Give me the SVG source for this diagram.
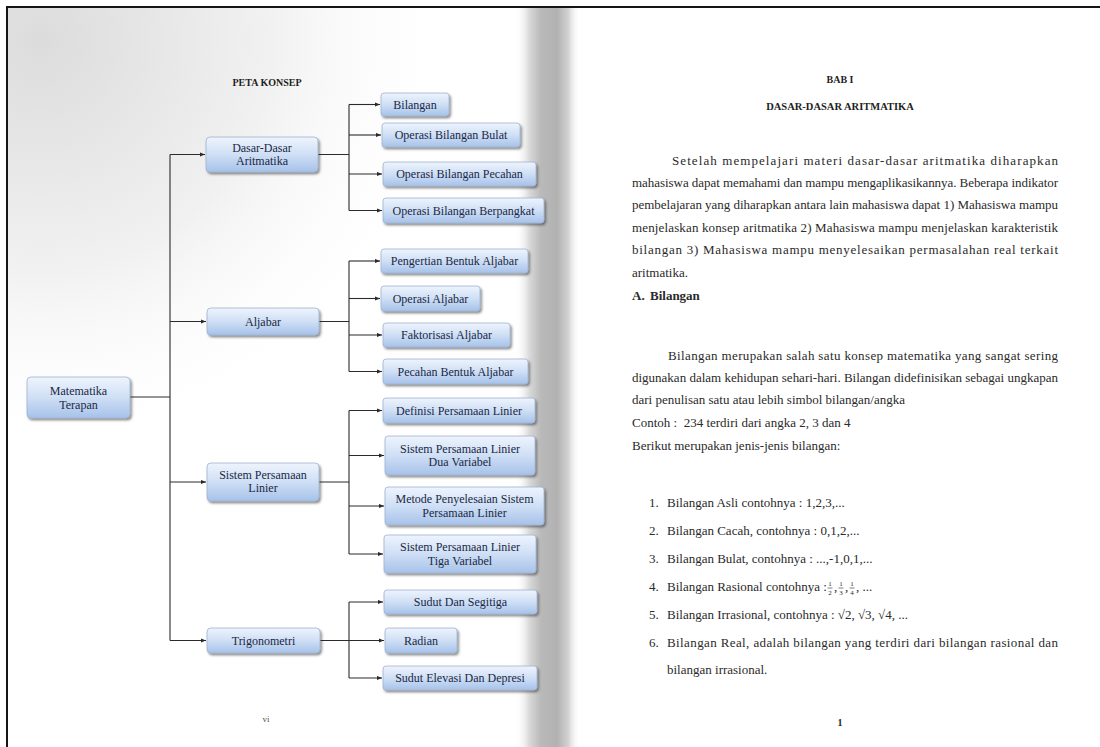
<svg xmlns="http://www.w3.org/2000/svg" width="1100" height="747" viewBox="0 0 1100 747">
<defs>
<style>
.box{fill:url(#boxg);stroke:#9fb2cf;stroke-width:0.8;filter:url(#sh)}
.bt{font-family:"Liberation Serif","Times New Roman",serif;font-size:12px;fill:#1a2844;text-anchor:middle}
.con{fill:none;stroke:#2b2b2b;stroke-width:1.1}
.arr{fill:none;stroke:#2b2b2b;stroke-width:1.1;marker-end:url(#ah)}
.body{font-family:"Liberation Serif","Times New Roman",serif;font-size:13px;fill:#2a2a2a}
.hd{font-family:"Liberation Serif","Times New Roman",serif;font-weight:bold;fill:#1e1e1e;text-anchor:middle}
.fr{font-family:"Liberation Serif","Times New Roman",serif;font-size:7px;fill:#2a2a2a;text-anchor:middle}
</style>
<linearGradient id="boxg" x1="0" y1="0" x2="0" y2="1">
<stop offset="0" stop-color="#eef4fd"/>
<stop offset="0.5" stop-color="#cfdff5"/>
<stop offset="1" stop-color="#a6c2ea"/>
</linearGradient>
<filter id="sh" x="-10%" y="-20%" width="125%" height="160%">
<feDropShadow dx="1.5" dy="2" stdDeviation="1.2" flood-color="#333" flood-opacity="0.55"/>
</filter>
<radialGradient id="tl" cx="40" cy="40" r="420" gradientUnits="userSpaceOnUse">
<stop offset="0" stop-color="#dcdcdc"/>
<stop offset="0.55" stop-color="#f1f1f1"/>
<stop offset="1" stop-color="#ffffff" stop-opacity="0"/>
</radialGradient>
<linearGradient id="gut" x1="515" y1="0" x2="580" y2="0" gradientUnits="userSpaceOnUse">
<stop offset="0" stop-color="#ffffff" stop-opacity="0"/>
<stop offset="0.22" stop-color="#d9d9d9"/>
<stop offset="0.4" stop-color="#b9b9b9"/>
<stop offset="0.65" stop-color="#b2b2b2"/>
<stop offset="0.82" stop-color="#d2d2d2"/>
<stop offset="1" stop-color="#ffffff" stop-opacity="0"/>
</linearGradient>
<marker id="ah" viewBox="0 0 6 6" refX="6" refY="3" markerWidth="5" markerHeight="5" markerUnits="userSpaceOnUse" orient="auto">
<path d="M0,0.5 L6,3 L0,5.5 z" fill="#2b2b2b"/>
</marker>
</defs>

<rect x="0" y="0" width="1100" height="747" fill="#ffffff"/>
<rect x="7" y="7" width="510" height="740" fill="url(#tl)"/>
<rect x="515" y="7" width="65" height="740" fill="url(#gut)"/>
<path d="M6,7 H1100 M7,6 V747" stroke="#151515" stroke-width="2" fill="none"/>

<text class="hd" x="267" y="86" font-size="10">PETA KONSEP</text>

<g id="connectors">
<path class="con" d="M130,397 H170 M170,154.5 V640.5"/>
<path class="arr" d="M170,154.5 H205"/>
<path class="arr" d="M170,321.5 H206"/>
<path class="arr" d="M170,482 H206"/>
<path class="arr" d="M170,640.5 H206"/>
<path class="con" d="M318,154.5 H349 M349,104.5 V210.5"/>
<path class="arr" d="M349,104.5 H380"/>
<path class="arr" d="M349,135 H381"/>
<path class="arr" d="M349,174 H382"/>
<path class="arr" d="M349,210.5 H382"/>
<path class="con" d="M319,321.5 H349 M349,261 V371.5"/>
<path class="arr" d="M349,261 H380"/>
<path class="arr" d="M349,298.5 H380"/>
<path class="arr" d="M349,335 H382"/>
<path class="arr" d="M349,371.5 H382"/>
<path class="con" d="M319,482 H349 M349,410.5 V554"/>
<path class="arr" d="M349,410.5 H382"/>
<path class="arr" d="M349,455.5 H384"/>
<path class="arr" d="M349,506 H384"/>
<path class="arr" d="M349,554 H383"/>
<path class="con" d="M320,640.5 H349 M349,602 V678"/>
<path class="arr" d="M349,602 H383"/>
<path class="arr" d="M349,640.5 H384"/>
<path class="arr" d="M349,678 H382"/>
</g>

<g id="n-matematika-terapan"><rect class="box" x="27" y="377" width="103" height="41" rx="4"/><text class="bt" x="78.5" y="395">Matematika</text><text class="bt" x="78.5" y="409">Terapan</text></g>
<g id="n-dasar"><rect class="box" x="206" y="137" width="112" height="35" rx="4"/><text class="bt" x="262" y="152">Dasar-Dasar</text><text class="bt" x="262" y="165">Aritmatika</text></g>
<g id="n-aljabar"><rect class="box" x="207" y="308" width="112" height="27" rx="4"/><text class="bt" x="263" y="325.5">Aljabar</text></g>
<g id="n-spl"><rect class="box" x="207" y="463" width="112" height="38" rx="4"/><text class="bt" x="263" y="479">Sistem Persamaan</text><text class="bt" x="263" y="492">Linier</text></g>
<g id="n-trigonometri"><rect class="box" x="207" y="628" width="113" height="25" rx="4"/><text class="bt" x="263.5" y="644.5">Trigonometri</text></g>

<g id="n-bilangan"><rect class="box" x="381" y="93" width="68" height="23" rx="3"/><text class="bt" x="415" y="108.5">Bilangan</text></g>
<g id="n-bulat"><rect class="box" x="382" y="123" width="138" height="24" rx="3"/><text class="bt" x="451" y="139">Operasi Bilangan Bulat</text></g>
<g id="n-pecahan"><rect class="box" x="383" y="162" width="153" height="24" rx="3"/><text class="bt" x="459.5" y="178">Operasi Bilangan Pecahan</text></g>
<g id="n-berpangkat"><rect class="box" x="383" y="198" width="161" height="25" rx="3"/><text class="bt" x="463.5" y="214.5">Operasi Bilangan Berpangkat</text></g>

<g id="n-pengertian"><rect class="box" x="381" y="249" width="147" height="24" rx="3"/><text class="bt" x="454.5" y="265">Pengertian Bentuk Aljabar</text></g>
<g id="n-operasi-aljabar"><rect class="box" x="381" y="286" width="99" height="25" rx="3"/><text class="bt" x="430.5" y="302.5">Operasi Aljabar</text></g>
<g id="n-faktorisasi"><rect class="box" x="383" y="323" width="127" height="24" rx="3"/><text class="bt" x="446.5" y="339">Faktorisasi Aljabar</text></g>
<g id="n-pecahan-aljabar"><rect class="box" x="383" y="359" width="145" height="25" rx="3"/><text class="bt" x="455.5" y="375.5">Pecahan Bentuk Aljabar</text></g>

<g id="n-definisi"><rect class="box" x="383" y="398" width="152" height="25" rx="3"/><text class="bt" x="459" y="414.5">Definisi Persamaan Linier</text></g>
<g id="n-spldv"><rect class="box" x="385" y="436" width="150" height="39" rx="3"/><text class="bt" x="460" y="452.5">Sistem Persamaan Linier</text><text class="bt" x="460" y="466">Dua Variabel</text></g>
<g id="n-metode"><rect class="box" x="385" y="487" width="159" height="38" rx="3"/><text class="bt" x="464.5" y="503">Metode Penyelesaian Sistem</text><text class="bt" x="464.5" y="516.5">Persamaan Linier</text></g>
<g id="n-spltv"><rect class="box" x="384" y="535" width="152" height="38" rx="3"/><text class="bt" x="460" y="551">Sistem Persamaan Linier</text><text class="bt" x="460" y="564.5">Tiga Variabel</text></g>

<g id="n-sudut-segitiga"><rect class="box" x="384" y="590" width="153" height="24" rx="3"/><text class="bt" x="460.5" y="606">Sudut Dan Segitiga</text></g>
<g id="n-radian"><rect class="box" x="385" y="628" width="72" height="25" rx="3"/><text class="bt" x="421" y="644.5">Radian</text></g>
<g id="n-sudut-elevasi"><rect class="box" x="383" y="666" width="154" height="24" rx="3"/><text class="bt" x="460" y="682">Sudut Elevasi Dan Depresi</text></g>

<text x="266" y="722" font-family="Liberation Serif, serif" font-size="9" fill="#555" text-anchor="middle">vi</text>

<g id="right-page">
<text class="hd" x="840" y="83" font-size="10">BAB I</text>
<text class="hd" x="840" y="110" font-size="10.5">DASAR-DASAR ARITMATIKA</text>
<text class="body" x="672" y="165" textLength="386" lengthAdjust="spacing">Setelah mempelajari materi dasar-dasar aritmatika diharapkan</text>
<text class="body" x="632" y="187" textLength="426" lengthAdjust="spacing">mahasiswa dapat memahami dan mampu mengaplikasikannya. Beberapa indikator</text>
<text class="body" x="632" y="209" textLength="426" lengthAdjust="spacing">pembelajaran yang diharapkan antara lain mahasiswa dapat 1) Mahasiswa mampu</text>
<text class="body" x="632" y="232" textLength="426" lengthAdjust="spacing">menjelaskan konsep aritmatika 2) Mahasiswa mampu menjelaskan karakteristik</text>
<text class="body" x="632" y="254" textLength="426" lengthAdjust="spacing">bilangan 3) Mahasiswa mampu menyelesaikan permasalahan real terkait</text>
<text class="body" x="632" y="277">aritmatika.</text>
<text class="body" x="632" y="300" font-weight="bold">A.</text>
<text class="body" x="650" y="300" font-weight="bold">Bilangan</text>
<text class="body" x="668" y="360" textLength="390" lengthAdjust="spacing">Bilangan merupakan salah satu konsep matematika yang sangat sering</text>
<text class="body" x="632" y="382" textLength="426" lengthAdjust="spacing">digunakan dalam kehidupan sehari-hari. Bilangan didefinisikan sebagai ungkapan</text>
<text class="body" x="632" y="404">dari penulisan satu atau lebih simbol bilangan/angka</text>
<text class="body" x="632" y="427">Contoh :&#160; 234 terdiri dari angka 2, 3 dan 4</text>
<text class="body" x="632" y="450">Berikut merupakan jenis-jenis bilangan:</text>

<text class="body" x="649" y="507">1.</text><text class="body" x="667" y="507">Bilangan Asli contohnya : 1,2,3,...</text>
<text class="body" x="649" y="535">2.</text><text class="body" x="667" y="535">Bilangan Cacah, contohnya : 0,1,2,...</text>
<text class="body" x="649" y="563">3.</text><text class="body" x="667" y="563">Bilangan Bulat, contohnya : ...,-1,0,1,...</text>
<text class="body" x="649" y="591">4.</text><text class="body" x="667" y="591">Bilangan Rasional contohnya :</text>
<text class="fr" x="830" y="586">1</text><text class="fr" x="830" y="595">2</text>
<text class="body" x="834" y="591">,</text>
<text class="fr" x="841" y="586">1</text><text class="fr" x="841" y="595">3</text>
<text class="body" x="845" y="591">,</text>
<text class="fr" x="852" y="586">1</text><text class="fr" x="852" y="595">4</text>
<text class="body" x="856" y="591">, ...</text>
<path d="M827.5,588 h5 M838.5,588 h5 M849.5,588 h5" stroke="#2a2a2a" stroke-width="0.6"/>
<text class="body" x="649" y="619">5.</text><text class="body" x="667" y="619">Bilangan Irrasional, contohnya : √2, √3, √4, ...</text>
<text class="body" x="649" y="647">6.</text><text class="body" x="667" y="647" textLength="391" lengthAdjust="spacing">Bilangan Real, adalah bilangan yang terdiri dari bilangan rasional dan</text>
<text class="body" x="667" y="674">bilangan irrasional.</text>
<text class="hd" x="840" y="726" font-size="10">1</text>
</g>
</svg>
